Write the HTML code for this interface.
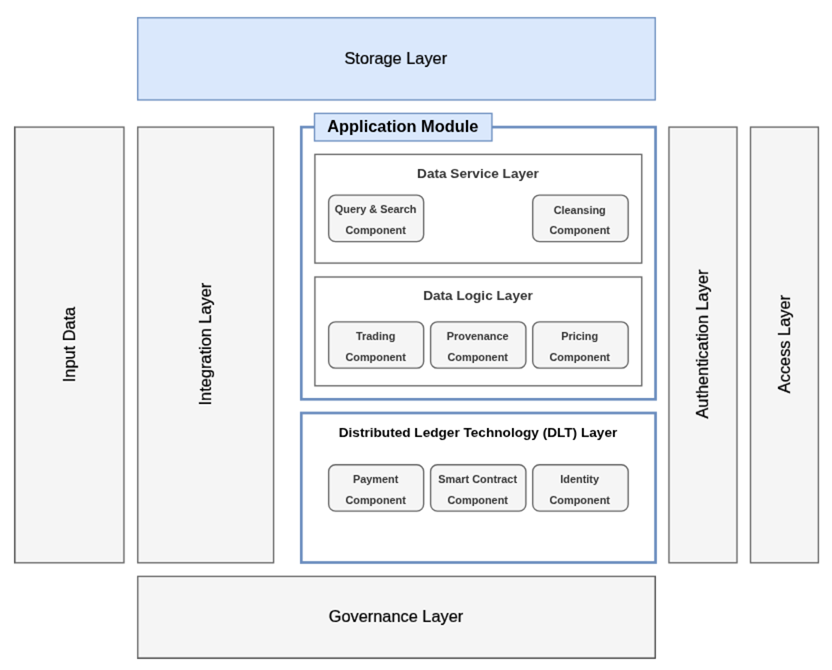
<!DOCTYPE html>
<html>
<head>
<meta charset="utf-8">
<title>Architecture Diagram</title>
<style>
html,body{margin:0;padding:0;background:#ffffff;}
body{width:832px;height:670px;overflow:hidden;font-family:"Liberation Sans",sans-serif;}
svg{display:block;}
text{font-family:"Liberation Sans",sans-serif;fill:#000000;}
.g{fill:#f5f5f5;stroke:#666666;stroke-width:1.35;}
.w{fill:#ffffff;stroke:#666666;stroke-width:1.35;}
.b{fill:#dae8fc;stroke:#6c8ebf;stroke-width:1.35;}
.bw{fill:#ffffff;stroke:#6c8ebf;stroke-width:2.7;}
.c{fill:#f5f5f5;stroke:#666666;stroke-width:1.35;}
.x{fill:none;stroke:#3c3c3c;stroke-width:0.7;}
.t16{font-size:16.35px;text-anchor:middle;stroke:#000;stroke-width:0.22px;}
.tb16{font-size:16.4px;font-weight:bold;text-anchor:middle;fill:#000;}
.tb13{font-size:13.62px;font-weight:bold;text-anchor:middle;fill:#333;}
.tb13.k{fill:#000;}
.tb11{font-size:10.9px;font-weight:bold;text-anchor:middle;fill:#333;}
</style>
</head>
<body>
<svg width="832" height="670" viewBox="0 0 832 670">
<defs><filter id="soft" x="0" y="0" width="832" height="670" filterUnits="userSpaceOnUse" color-interpolation-filters="sRGB"><feConvolveMatrix order="5" kernelMatrix="0.00122 -0.00472 -0.02800 -0.00472 0.00122 -0.00472 0.01822 0.10800 0.01822 -0.00472 -0.02800 0.10800 0.64000 0.10800 -0.02800 -0.00472 0.01822 0.10800 0.01822 -0.00472 0.00122 -0.00472 -0.02800 -0.00472 0.00122" divisor="1" edgeMode="duplicate" preserveAlpha="true"/></filter></defs>
<g filter="url(#soft)">
<rect x="-5" y="-5" width="842" height="680" fill="#ffffff"/>
<!-- Storage Layer -->
<rect class="b" x="137.70" y="17.75" width="517.55" height="82.20"/>
<text class="t16" x="395.8" y="64.1">Storage Layer</text>
<!-- Input Data -->
<rect class="g" x="14.90" y="127.10" width="109.05" height="435.70"/>
<line class="x" x1="14.5" y1="126.5" x2="14.5" y2="563.3"/>
<text class="t16" transform="translate(75.1,344.5) rotate(-90)">Input Data</text>
<!-- Integration Layer -->
<rect class="g" x="137.75" y="127.10" width="135.85" height="435.70"/>
<text class="t16" transform="translate(211.2,344.1) rotate(-90)">Integration Layer</text>
<!-- Application Module -->
<rect class="bw" x="301.30" y="127.10" width="354.25" height="272.20"/>
<rect class="b" x="314.50" y="113.40" width="177.45" height="27.55"/>
<text class="tb16" x="402.8" y="131.6">Application Module</text>
<!-- Data Service Layer -->
<rect class="w" x="314.90" y="154.40" width="326.85" height="108.70"/>
<text class="tb13" x="478" y="178">Data Service Layer</text>
<rect class="c" x="328.65" y="195.10" width="95.00" height="46.50" rx="6.8" ry="6.8"/>
<text class="tb11" x="375.65" y="213.40">Query &amp; Search</text>
<text class="tb11" x="375.65" y="233.60">Component</text>
<rect class="c" x="532.70" y="195.10" width="95.50" height="46.50" rx="6.8" ry="6.8"/>
<text class="tb11" x="579.70" y="213.80">Cleansing</text>
<text class="tb11" x="579.70" y="233.70">Component</text>
<!-- Data Logic Layer -->
<rect class="w" x="314.90" y="277.00" width="326.85" height="108.80"/>
<text class="tb13" x="478" y="300.25">Data Logic Layer</text>
<rect class="c" x="328.65" y="321.80" width="95.00" height="46.40" rx="6.8" ry="6.8"/>
<text class="tb11" x="375.65" y="340.10">Trading</text>
<text class="tb11" x="375.65" y="360.70">Component</text>
<rect class="c" x="430.60" y="321.80" width="95.30" height="46.40" rx="6.8" ry="6.8"/>
<text class="tb11" x="477.70" y="340.10">Provenance</text>
<text class="tb11" x="477.70" y="360.70">Component</text>
<rect class="c" x="532.70" y="321.80" width="95.50" height="46.40" rx="6.8" ry="6.8"/>
<text class="tb11" x="579.70" y="340.10">Pricing</text>
<text class="tb11" x="579.70" y="360.70">Component</text>
<!-- DLT Layer -->
<rect class="bw" x="301.30" y="413.00" width="354.25" height="149.50"/>
<text class="tb13 k" x="478" y="437">Distributed Ledger Technology (DLT) Layer</text>
<rect class="c" x="328.65" y="464.70" width="95.00" height="46.40" rx="6.8" ry="6.8"/>
<text class="tb11" x="375.65" y="483.00">Payment</text>
<text class="tb11" x="375.65" y="503.60">Component</text>
<rect class="c" x="430.60" y="464.70" width="95.30" height="46.40" rx="6.8" ry="6.8"/>
<text class="tb11" x="477.70" y="483.00">Smart Contract</text>
<text class="tb11" x="477.70" y="503.60">Component</text>
<rect class="c" x="532.70" y="464.70" width="95.50" height="46.40" rx="6.8" ry="6.8"/>
<text class="tb11" x="579.70" y="483.00">Identity</text>
<text class="tb11" x="579.70" y="503.60">Component</text>
<!-- Authentication Layer -->
<rect class="g" x="668.95" y="127.10" width="68.05" height="435.70"/>
<text class="t16" transform="translate(708.1,344.1) rotate(-90)">Authentication Layer</text>
<!-- Access Layer -->
<rect class="g" x="750.50" y="127.10" width="67.90" height="435.70"/>
<text class="t16" transform="translate(790,344.1) rotate(-90)">Access Layer</text>
<!-- Governance Layer -->
<rect class="g" x="137.75" y="576.40" width="517.40" height="81.60"/>
<path class="x" d="M137.2 658.5 H655.5 V575.9"/>
<text class="t16" x="396" y="622">Governance Layer</text>
</g>
</svg>
</body>
</html>
